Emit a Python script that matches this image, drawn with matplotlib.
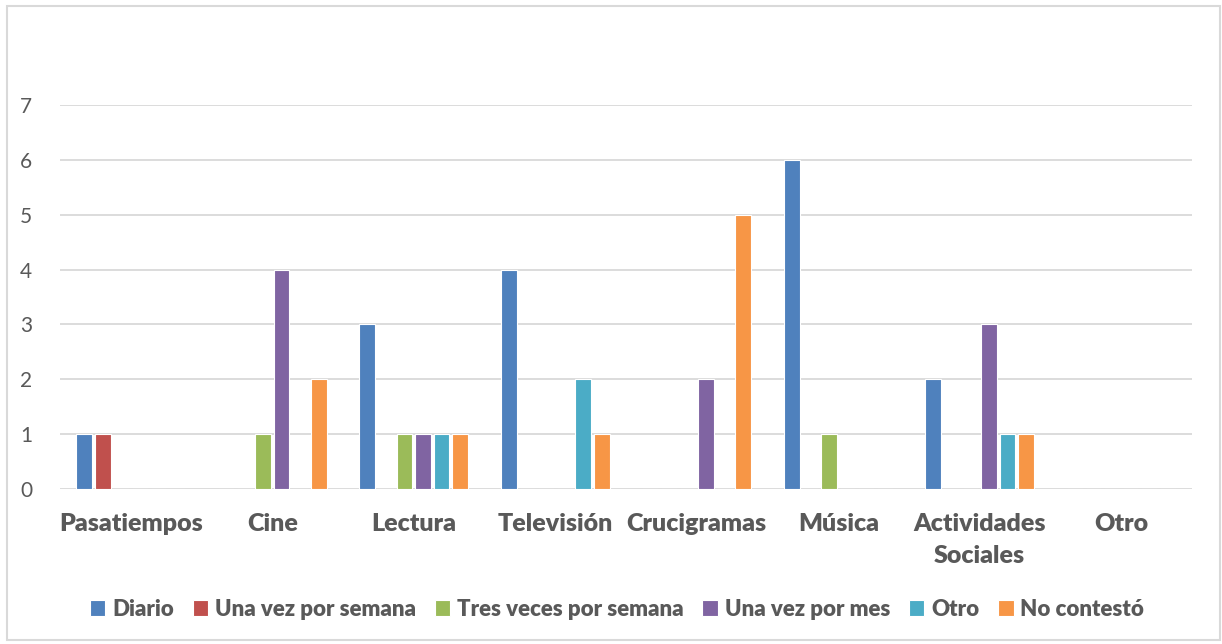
import matplotlib.pyplot as plt
import numpy as np
from matplotlib.patches import Rectangle

categories = ["Pasatiempos", "Cine", "Lectura", "Televisión", "Crucigramas",
              "Música", "Actividades\nSociales", "Otro"]
series_names = ["Diario", "Una vez por semana", "Tres veces por semana",
                "Una vez por mes", "Otro", "No contestó"]
diario = [1, 0, 3, 4, 0, 6, 2, 0]
una_vez_semana = [1, 0, 0, 0, 0, 0, 0, 0]
tres_veces_semana = [0, 1, 1, 0, 0, 1, 0, 0]
una_vez_mes = [0, 4, 1, 0, 2, 0, 3, 0]
otro = [0, 0, 1, 2, 0, 0, 1, 0]
no_contesto = [0, 2, 1, 1, 5, 0, 1, 0]
y_ticks = [0, 1, 2, 3, 4, 5, 6, 7]

colors = ["#4F81BD", "#C0504D", "#9BBB59", "#8064A2", "#4BACC6", "#F79646"]
series = [diario, una_vez_semana, tres_veces_semana, una_vez_mes, otro, no_contesto]

plt.rcParams['font.family'] = ['Lato', 'DejaVu Sans']
text_color = "#595959"

fig = plt.figure(figsize=(12.22, 6.44), dpi=100)
ax = fig.add_axes([60 / 1222, 1 - 489 / 644, (1192 - 60) / 1222, (489 - 105) / 644])

x = np.arange(len(categories))
step = 0.131
bar_w = 0.112
offsets = (np.arange(len(series)) - (len(series) - 1) / 2) * step
for vals, off, c, name in zip(series, offsets, colors, series_names):
    ax.bar(x + off, vals, width=bar_w, color=c, label=name,
           edgecolor="white", linewidth=0.8, zorder=3)

ax.set_xlim(-0.5, len(categories) - 0.5)
ax.set_ylim(0, 7)
ax.set_yticks(y_ticks)
ax.set_yticklabels([str(t) for t in y_ticks], fontsize=15, color=text_color)
ax.set_xticks(x)
ax.set_xticklabels(categories, fontsize=18, fontweight="heavy", color=text_color,
                   linespacing=1.6, va="top")
ax.tick_params(axis="both", length=0)
ax.tick_params(axis="y", pad=20)
ax.tick_params(axis="x", pad=17)
ax.grid(axis="y", color="#D9D9D9", linewidth=1.3, zorder=0)
for s in ax.spines.values():
    s.set_visible(False)

leg = fig.legend(loc="center", bbox_to_anchor=(0.5 + 6 / 1222, 1 - 609 / 644), ncol=6,
                 frameon=False, fontsize=16, handlelength=0.7, handleheight=0.7,
                 handletextpad=0.3, columnspacing=0.85)
for t in leg.get_texts():
    t.set_color(text_color)
    t.set_fontweight("heavy")

fig.patches.append(Rectangle((7 / 1222, 1 - 640 / 644), (1220 - 7) / 1222, (640 - 6) / 644,
                             transform=fig.transFigure, fill=False,
                             edgecolor="#D9D9D9", linewidth=1.5))

fig.savefig("out.png", dpi=100)
